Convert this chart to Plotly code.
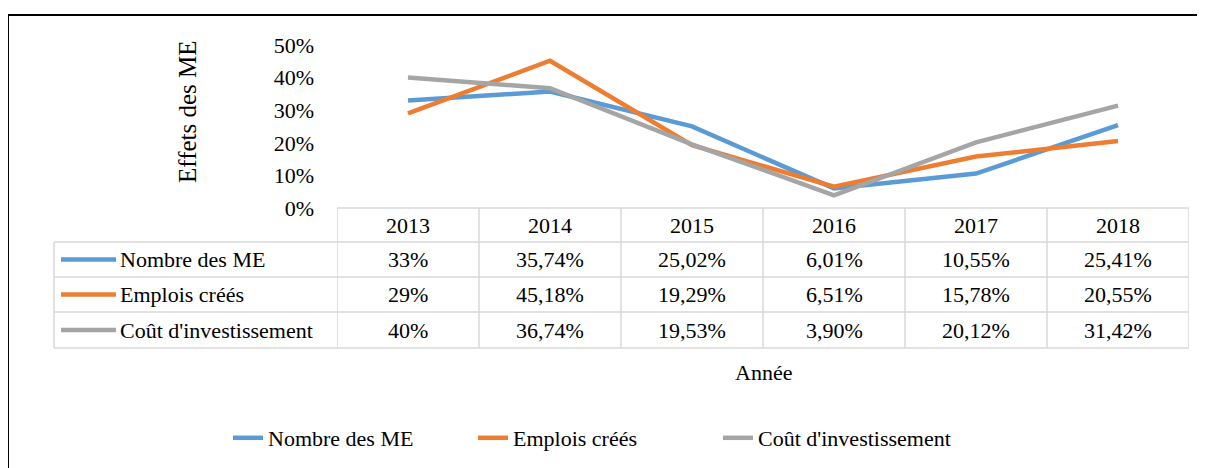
import plotly.graph_objects as go

# Data
years = ["2013", "2014", "2015", "2016", "2017", "2018"]
series_names = ["Nombre des ME", "Emplois créés", "Coût d'investissement"]
nombre_me = [33, 35.74, 25.02, 6.01, 10.55, 25.41]
emplois = [29, 45.18, 19.29, 6.51, 15.78, 20.55]
cout_invest = [40, 36.74, 19.53, 3.90, 20.12, 31.42]
colors = ["#5B9BD5", "#ED7D31", "#A5A5A5"]
y_ticks = [0, 10, 20, 30, 40, 50]
y_ticktext = ["0%", "10%", "20%", "30%", "40%", "50%"]

FONT = "Liberation Serif"
W, H = 1205, 468
PAGE = 8  # page margin of the html body
# plot area in screen pixels
L, R, T, B = 337, 1189, 45, 208


def px_x(px):
    return (px - L) / (R - L)


def px_y(py):
    return (B - py) / (B - T)


def fmt(v):
    if float(v).is_integer():
        return f"{v:.0f}%"
    return f"{v:.2f}%".replace(".", ",")


def txt(**kw):
    base = dict(showarrow=False, xanchor="center", yanchor="middle",
                font=dict(family=FONT, size=22, color="black"))
    base.update(kw)
    return base


fig = go.Figure()
all_series = [nombre_me, emplois, cout_invest]
for name, vals, col in zip(series_names, all_series, colors):
    fig.add_trace(go.Scatter(
        x=years, y=vals, name=name, mode="lines",
        line=dict(color=col, width=4.5),
        cliponaxis=False,
    ))

shapes = []
annotations = []
grid = dict(color="#D9D9D9", width=1.5)

# table row boundaries (pixels)
rows = [208, 242, 277, 312, 348]
shapes.append(dict(type="line", xref="x", yref="paper", x0=-0.5, x1=len(years) - 0.5,
                   y0=px_y(rows[0]), y1=px_y(rows[0]), line=grid))
for r in rows[1:]:
    shapes.append(dict(type="line", xref="paper", yref="paper", x0=px_x(54), x1=1,
                       y0=px_y(r), y1=px_y(r), line=grid))
for i in range(len(years) + 1):
    shapes.append(dict(type="line", xref="x", yref="paper", x0=i - 0.5, x1=i - 0.5,
                       y0=px_y(rows[0]), y1=px_y(rows[-1]), line=grid))
shapes.append(dict(type="line", xref="paper", yref="paper", x0=px_x(54), x1=px_x(54),
                   y0=px_y(rows[1]), y1=px_y(rows[-1]), line=grid))

# header years (category index positions)
for i, yr in enumerate(years):
    annotations.append(txt(x=i, xref="x", y=px_y((rows[0] + rows[1]) / 2), yref="paper", text=yr))

# rows
for k, (name, vals, col) in enumerate(zip(series_names, all_series, colors)):
    yc = px_y((rows[k + 1] + rows[k + 2]) / 2)
    shapes.append(dict(type="line", xref="paper", yref="paper", x0=px_x(61), x1=px_x(116),
                       y0=yc, y1=yc, line=dict(color=col, width=4.5)))
    annotations.append(txt(x=px_x(118), xref="paper", y=yc, yref="paper", xanchor="left", text=name))
    for i, v in enumerate(vals):
        annotations.append(txt(x=i, xref="x", y=yc, yref="paper", text=fmt(v)))

# axis titles
annotations.append(txt(x=px_x(187), xref="paper", y=px_y(112), yref="paper", text="Effets des ME",
                       textangle=-90, font=dict(family=FONT, size=25, color="black")))
annotations.append(txt(x=px_x(763), xref="paper", y=px_y(372), yref="paper", text="Année"))

# outer border
shapes.append(dict(type="rect", xref="paper", yref="paper", x0=px_x(8), x1=px_x(1225),
                   y0=px_y(15), y1=px_y(490), line=dict(color="black", width=2)))

fig.update_layout(
    width=W, height=H,
    margin=dict(l=L - PAGE, r=W - (R - PAGE), t=T - PAGE, b=H - (B - PAGE), autoexpand=False),
    paper_bgcolor="white", plot_bgcolor="white",
    shapes=shapes, annotations=annotations,
    xaxis=dict(range=[-0.5, len(years) - 0.5], showticklabels=False, showgrid=False,
               zeroline=False, showline=False, ticks=""),
    yaxis=dict(range=[0, 50], tickmode="array", tickvals=y_ticks, ticktext=y_ticktext,
               showgrid=False, zeroline=False, showline=False, ticks="", ticklabelstandoff=22,
               tickfont=dict(family=FONT, size=22, color="black")),
    showlegend=True,
    legend=dict(orientation="h", x=px_x(228), xanchor="left", y=px_y(438), yanchor="middle",
                font=dict(family=FONT, size=22, color="black"),
                entrywidth=200, entrywidthmode="pixels",
                bgcolor="rgba(0,0,0,0)"),
    font=dict(family=FONT),
)

fig.write_html("out.html")
